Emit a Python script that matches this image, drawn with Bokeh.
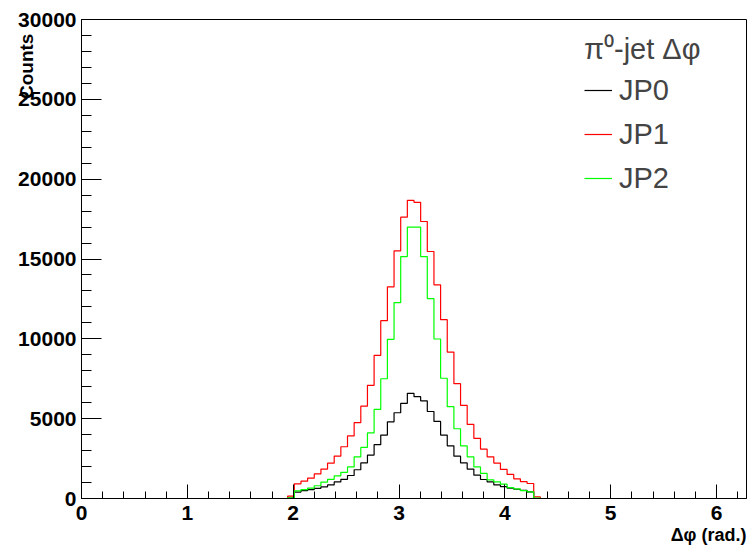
import numpy as np
from bokeh.plotting import figure
from bokeh.models import Range1d, FixedTicker, Legend, LegendItem, Title
from bokeh.embed import file_html
from bokeh.resources import INLINE

# Histogram binning: 100 bins over [0, 2*pi]; filled bins start at index 31
N_BINS = 100
PHI_MAX = 2 * np.pi
FIRST_BIN = 31

# Counts per bin (bins 31..68) for each trigger
jp0 = [20, 400, 490, 560, 640, 730, 850, 1040, 1200, 1440,
       1800, 2230, 2720, 3370, 3970, 4800, 5370, 5960, 6590, 6380,
       6120, 5450, 4830, 3970, 3300, 2650, 2230, 1840, 1460, 1190,
       1040, 850, 740, 650, 580, 510, 420, 0]
jp1 = [150, 920, 1085, 1270, 1540, 1840, 2210, 2660, 3240, 3920,
       4750, 5780, 7090, 8960, 11140, 13260, 15510, 17620, 18670, 18550,
       17350, 15470, 13380, 11200, 9170, 7190, 5830, 4640, 3760, 3090,
       2610, 2220, 1820, 1510, 1230, 1060, 940, 100]
jp2 = [40, 480, 560, 650, 800, 1020, 1200, 1420, 1640, 1980,
       2610, 3200, 4110, 5580, 7500, 9970, 12270, 15150, 17000, 17000,
       15150, 12520, 9990, 7530, 5750, 4370, 3300, 2610, 1980, 1570,
       1170, 1040, 900, 680, 600, 490, 420, 30]

series_names = ["JP0", "JP1", "JP2"]
series_colors = ["#000000", "#ff0000", "#00ff00"]

x_major = [0, 1, 2, 3, 4, 5, 6]
y_major = [0, 5000, 10000, 15000, 20000, 25000, 30000]

edges = np.linspace(0.0, PHI_MAX, N_BINS + 1)


def full_hist(counts):
    h = np.zeros(N_BINS)
    h[FIRST_BIN:FIRST_BIN + len(counts)] = counts
    return h


def step_outline(h):
    xs = np.repeat(edges, 2)[1:-1]
    ys = np.repeat(h, 2)
    return xs, ys


W, H = 748, 555
p = figure(width=W, height=H, output_backend="svg", toolbar_location=None,
           x_range=Range1d(0, PHI_MAX), y_range=Range1d(0, 30000),
           min_border_left=81, min_border_right=2, min_border_top=19,
           min_border_bottom=57)
p.xgrid.grid_line_color = None
p.ygrid.grid_line_color = None
p.outline_line_color = "black"
p.outline_line_width = 1
p.background_fill_color = "white"
p.border_fill_color = "white"

# axes in the classic inward-tick style
p.xaxis.ticker = FixedTicker(ticks=x_major,
                             minor_ticks=list(np.round(np.arange(0, 6.3, 0.2), 2)))
p.yaxis.ticker = FixedTicker(ticks=y_major, minor_ticks=list(range(0, 30001, 1000)))
for ax in (p.xaxis, p.yaxis):
    ax.major_tick_out = 0
    ax.minor_tick_out = 0
    ax.axis_line_color = "black"
    ax.major_tick_line_color = "black"
    ax.minor_tick_line_color = "black"
    ax.major_label_text_font = "Liberation Sans"
    ax.major_label_text_font_style = "bold"
    ax.major_label_text_font_size = "21px"
    ax.major_label_text_color = "black"
p.xaxis.major_tick_in = 14
p.xaxis.minor_tick_in = 7
p.yaxis.major_tick_in = 20
p.yaxis.minor_tick_in = 10
p.xaxis.major_label_standoff = 7
p.yaxis.major_label_standoff = 5

# y title: the label is centred on the axis, so leading no-break spaces
# push the visible word up to just below the frame top, over the tick labels
p.yaxis.axis_label = "\u00a0" * 73 + "Counts"
p.yaxis.axis_label_standoff = -22
p.yaxis.axis_label_text_font = "Liberation Sans"
p.yaxis.axis_label_text_font_style = "bold"
p.yaxis.axis_label_text_font_size = "19px"
p.yaxis.axis_label_text_color = "black"

# x title: right-aligned under the axis
p.add_layout(Title(text="\u0394\u03c6 (rad.)", align="right", standoff=0,
                   text_font="Liberation Sans", text_font_style="bold",
                   text_font_size="18px", text_color="black"), "below")

renderers = []
for counts, color in zip([jp0, jp1, jp2], series_colors):
    xs, ys = step_outline(full_hist(counts))
    r = p.line(xs, ys, line_color=color, line_width=1.2)
    renderers.append(r)

legend = Legend(items=[LegendItem(label=n, renderers=[r])
                       for n, r in zip(series_names, renderers)],
                title="\u03c0\u2070-jet \u0394\u03c6",
                location=(503, 298), orientation="vertical",
                padding=0, margin=0, spacing=0,
                glyph_width=28, glyph_height=44, label_height=44,
                label_standoff=7,
                label_text_font="Liberation Sans", label_text_font_size="29px",
                title_text_font="Liberation Sans", title_text_font_size="29px",
                title_text_font_style="normal", title_standoff=1,
                border_line_color=None, background_fill_alpha=0)
p.add_layout(legend)

open("out.html", "w").write(file_html(p, INLINE))
